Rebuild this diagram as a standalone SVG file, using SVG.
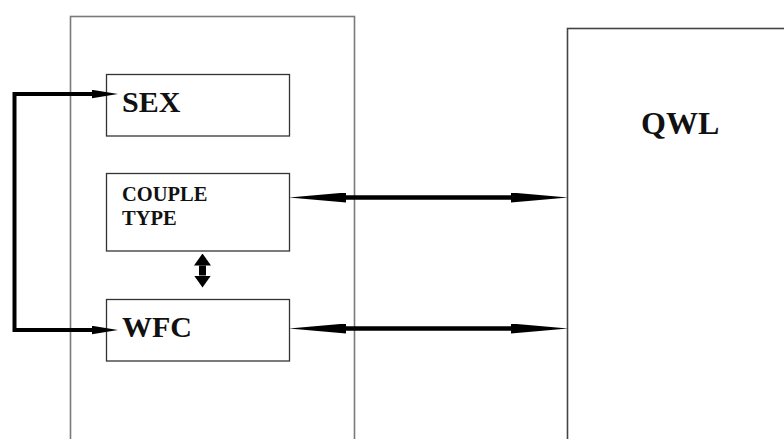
<svg xmlns="http://www.w3.org/2000/svg" width="784" height="439" viewBox="0 0 784 439">
<style>
.frame{fill:none;stroke:#7a7a7a;stroke-width:1.6}
.frame2{fill:none;stroke:#444;stroke-width:1.6}
.box{fill:#fff;stroke:#333;stroke-width:1.3}
.lbl{font-family:"Liberation Serif","Times New Roman",serif;font-weight:bold;fill:#111}
.conn{fill:none;stroke:#000}
</style>
<defs>
<marker id="longHead" markerUnits="userSpaceOnUse" viewBox="0 0 57 10" markerWidth="57" markerHeight="10" refX="0" refY="5" orient="auto-start-reverse">
<path d="M0,0 L57,5 L0,10 Z" fill="#000"/>
</marker>
<marker id="smallHead" markerUnits="userSpaceOnUse" viewBox="0 0 26 9" markerWidth="26" markerHeight="9" refX="0" refY="4.5" orient="auto-start-reverse">
<path d="M0,0.3 L26,4.5 L0,8.7 Z" fill="#000"/>
</marker>
<marker id="boldHead" markerUnits="userSpaceOnUse" viewBox="0 0 12 17" markerWidth="12" markerHeight="17" refX="0" refY="8.5" orient="auto-start-reverse">
<path d="M0,0 L12,8.5 L0,17 Z" fill="#000"/>
</marker>
</defs>
<g id="frame-left"><rect class="frame" x="70.5" y="16.5" width="284" height="460"/></g>
<g id="node-qwl">
<rect class="frame2" x="567.5" y="28.5" width="260" height="450"/>
<text class="lbl" x="641" y="134" font-size="32">QWL</text>
</g>
<g id="node-sex">
<rect class="box" x="106.5" y="74.5" width="183" height="61.5"/>
<text class="lbl" x="122" y="112" font-size="30">SEX</text>
</g>
<g id="node-couple">
<rect class="box" x="106.5" y="173.5" width="183" height="77.5"/>
<text class="lbl" x="122" y="201" font-size="20.5">COUPLE</text>
<text class="lbl" x="122" y="225" font-size="20.5">TYPE</text>
</g>
<g id="node-wfc">
<rect class="box" x="106.5" y="299.5" width="183" height="61.5"/>
<text class="lbl" x="122" y="337" font-size="30">WFC</text>
</g>
<g id="connectors">
<path class="conn" stroke-width="4" d="M92,94 H14.5 V330 H92" marker-start="url(#smallHead)" marker-end="url(#smallHead)"/>
<line class="conn" stroke-width="4.5" x1="346" y1="197.5" x2="511" y2="197.5" marker-start="url(#longHead)" marker-end="url(#longHead)"/>
<line class="conn" stroke-width="4.5" x1="346" y1="328.5" x2="511" y2="328.5" marker-start="url(#longHead)" marker-end="url(#longHead)"/>
<line class="conn" stroke-width="7" x1="202.5" y1="265.5" x2="202.5" y2="275.5" marker-start="url(#boldHead)" marker-end="url(#boldHead)"/>
</g>
</svg>
